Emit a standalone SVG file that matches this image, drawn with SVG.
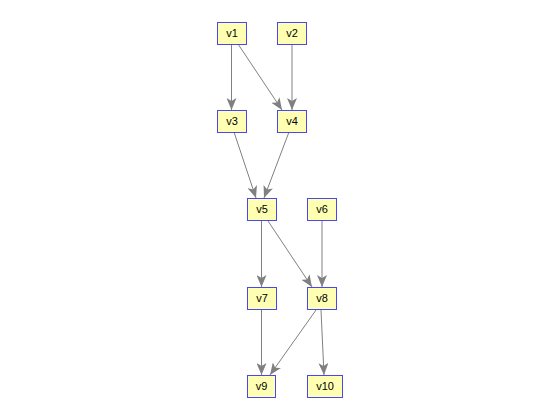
<svg xmlns="http://www.w3.org/2000/svg" width="560" height="420" viewBox="0 0 560 420">
<style>
.n rect{fill:#ffffb4;stroke:#4848f0;stroke-width:1}
.n text{font-family:"Liberation Sans",Arial,sans-serif;font-size:11px;fill:#000;text-anchor:middle}
.e path{fill:none;stroke:#808080;stroke-width:1;marker-end:url(#ah)}
</style>
<defs>
<marker id="ah" viewBox="0 0 12 10" refX="12" refY="5" markerWidth="12" markerHeight="10" markerUnits="userSpaceOnUse" orient="auto">
<path d="M0,0 L12,5 L0,10 L3,5 z" fill="#808080"/>
</marker>
</defs>
<rect width="560" height="420" fill="#fff"/>
<g id="edges" class="e">
<path d="M231.5,44 L231.5,110"/>
<path d="M238,44 L282,110"/>
<path d="M292,44 L292,110"/>
<path d="M234,132 L256,198"/>
<path d="M289,132 L264,198"/>
<path d="M261.5,221 L261.5,287"/>
<path d="M268,221 L312,287"/>
<path d="M322,221 L322,287"/>
<path d="M261.5,310 L261.5,375"/>
<path d="M316,310 L270,375"/>
<path d="M321,310 L324,375"/>
</g>
<g id="v1" class="n"><rect x="217.5" y="22.5" width="29" height="22"/><text x="232" y="37">v1</text></g>
<g id="v2" class="n"><rect x="277.5" y="22.5" width="29" height="22"/><text x="292" y="37">v2</text></g>
<g id="v3" class="n"><rect x="217.5" y="110.5" width="29" height="22"/><text x="232" y="125">v3</text></g>
<g id="v4" class="n"><rect x="277.5" y="110.5" width="29" height="22"/><text x="292" y="125">v4</text></g>
<g id="v5" class="n"><rect x="247.5" y="198.5" width="29" height="22"/><text x="262" y="213">v5</text></g>
<g id="v6" class="n"><rect x="307.5" y="198.5" width="29" height="22"/><text x="322" y="213">v6</text></g>
<g id="v7" class="n"><rect x="247.5" y="287.5" width="29" height="22"/><text x="262" y="302">v7</text></g>
<g id="v8" class="n"><rect x="307.5" y="287.5" width="29" height="22"/><text x="322" y="302">v8</text></g>
<g id="v9" class="n"><rect x="247.5" y="375.5" width="28" height="22"/><text x="261.5" y="390">v9</text></g>
<g id="v10" class="n"><rect x="307.5" y="375.5" width="35" height="22"/><text x="325" y="390">v10</text></g>
</svg>
